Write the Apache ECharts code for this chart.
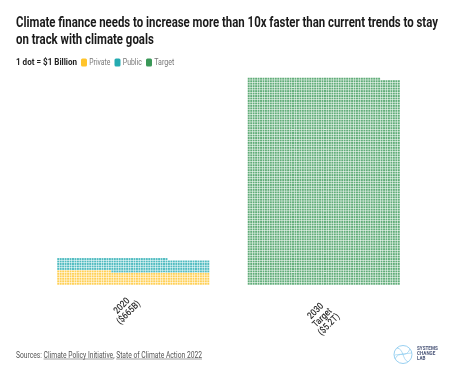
<!DOCTYPE html>
<html><head><meta charset="utf-8">
<script src="https://cdn.jsdelivr.net/npm/echarts@6/dist/echarts.min.js"></script>
<style>html,body{margin:0;padding:0;background:#fff}#c{width:455px;height:375px}</style>
</head><body><div id="c"></div>
<script>
// ---- data ----
const categories = ['2020\n($665B)', '2030\nTarget\n($5.2T)'];
const seriesNames = ['Private', 'Public', 'Target'];
const privateBillions = [332, 0];
const publicBillions = [333, 0];
const targetBillions = [0, 5200];
const titleLines = ['Climate finance needs to increase more than 10x faster than current trends to stay', 'on track with climate goals'];
const unitText = '1 dot = $1 Billion';
const sourceParts = ['Sources: ', 'Climate Policy Initiative', ', ', 'State of Climate Action 2022'];

// ---- layout / style ----
const COLS = 62, ROWS = 84;
const COLORS = { Private: '#FFC42B', Public: '#25ABB1', Target: '#3A9858' };
const FONT = "Roboto, 'Liberation Sans', sans-serif";

function dots(start, count) {
  const out = [];
  for (let i = start; i < start + count; i++) out.push([i % COLS, Math.floor(i / COLS)]);
  return out;
}

const mctx = document.createElement('canvas').getContext('2d');
function measure(t, font) { mctx.font = font; return mctx.measureText(t).width; }

const graphics = [];
function ctext(t, x, y, font, sc, fill, extra) {
  graphics.push(Object.assign({
    type: 'text', x: x, y: y, scaleX: sc, scaleY: 1, silent: true,
    style: { text: t, font: font, fill: fill, align: 'left', verticalAlign: 'middle' }
  }, extra || {}));
  return measure(t, font) * sc;
}

// title
const titleFont = 'bold 14.5px ' + FONT;
const titleScale = 422 / measure(titleLines[0], titleFont);
ctext(titleLines[0], 16, 23, titleFont, titleScale, '#1a1a1a');
ctext(titleLines[1], 16, 40, titleFont, titleScale, '#1a1a1a');

// unit + legend
const unitFont = 'bold 8.5px ' + FONT;
ctext(unitText, 16, 63, unitFont, 61 / measure(unitText, unitFont), '#222');
const legFont = '8.5px ' + FONT;
const legX = [81, 114.5, 146];
const legTextW = [21, 19, 20];
seriesNames.forEach((n, i) => {
  graphics.push({ type: 'rect', shape: { x: legX[i], y: 58.5, width: 6, height: 8, r: 1.5 }, style: { fill: COLORS[n] }, silent: true });
  ctext(n, legX[i] + 8.3, 63, legFont, legTextW[i] / measure(n, legFont), '#777');
});

// sources with underlines
const srcFont = '8.5px ' + FONT;
const srcScale = 186 / measure(sourceParts.join(''), srcFont);
let sx = 16;
sourceParts.forEach((t, i) => {
  const w = ctext(t, sx, 355.5, srcFont, srcScale, '#555');
  if (i === 1 || i === 3) graphics.push({ type: 'line', silent: true, shape: { x1: sx, y1: 359, x2: sx + w, y2: 359 }, style: { stroke: '#666', lineWidth: 0.6 } });
  sx += w;
});

// category labels under each block (rotated CCW 45deg)
const labelCenters = [[125.5, 309.5], [322.5, 318]];
categories.forEach((c, i) => {
  graphics.push({
    type: 'text', x: labelCenters[i][0], y: labelCenters[i][1], rotation: Math.PI / 4, scaleX: 0.85, silent: true,
    style: { text: c, font: '500 9.5px ' + FONT, fill: '#2a2a2a', align: 'center', verticalAlign: 'middle', lineHeight: 9.5 }
  });
});

// logo
const lc = '#8ccbef';
graphics.push({ type: 'circle', silent: true, shape: { cx: 403, cy: 354.5, r: 9 }, style: { fill: 'none', stroke: lc, lineWidth: 0.9 } });
graphics.push({ type: 'bezierCurve', silent: true, shape: { x1: 395, y1: 359, x2: 410, y2: 349, cpx1: 399, cpy1: 350, cpx2: 406, cpy2: 359 }, style: { fill: 'none', stroke: lc, lineWidth: 0.7 } });
graphics.push({ type: 'bezierCurve', silent: true, shape: { x1: 397, y1: 348, x2: 408, y2: 362, cpx1: 404, cpy1: 349, cpx2: 402, cpy2: 359 }, style: { fill: 'none', stroke: lc, lineWidth: 0.7 } });
graphics.push({ type: 'line', silent: true, shape: { x1: 394.5, y1: 355, x2: 411.5, y2: 353 }, style: { stroke: lc, lineWidth: 0.6 } });
['SYSTEMS', 'CHANGE', 'LAB'].forEach((t, i) => {
  graphics.push({ type: 'text', silent: true, x: 417, y: 348.5 + i * 5.3, style: { text: t, font: 'bold 4.6px ' + FONT, fill: '#4a5578', align: 'left', verticalAlign: 'middle' } });
});

// ---- chart ----
const chart = echarts.init(document.getElementById('c'), null, { renderer: 'canvas' });
const gridTop = 77.5, pitchY = 2.47, pitchX = 2.46;
const grids = [
  { left: 57, top: gridTop, width: COLS * pitchX, height: ROWS * pitchY },
  { left: 247.5, top: gridTop, width: COLS * pitchX, height: ROWS * pitchY }
];
const xAxes = grids.map((g, i) => ({ gridIndex: i, type: 'value', min: -0.5, max: COLS - 0.5, show: false }));
const yAxes = grids.map((g, i) => ({ gridIndex: i, type: 'value', min: -0.5, max: ROWS - 0.5, show: false }));

const series = [];
categories.forEach((cat, ci) => {
  const parts = [['Private', privateBillions[ci]], ['Public', publicBillions[ci]], ['Target', targetBillions[ci]]];
  let start = 0;
  parts.forEach(([name, v]) => {
    if (!v) return;
    series.push({
      name, type: 'scatter', xAxisIndex: ci, yAxisIndex: ci,
      symbol: 'rect', symbolSize: 1.95, large: false, progressive: 0,
      itemStyle: { color: COLORS[name] }, silent: true,
      data: dots(start, v)
    });
    start += v;
  });
});

chart.setOption({
  animation: false,
  backgroundColor: '#fff',
  grid: grids, xAxis: xAxes, yAxis: yAxes, series,
  graphic: graphics
});
</script></body></html>
